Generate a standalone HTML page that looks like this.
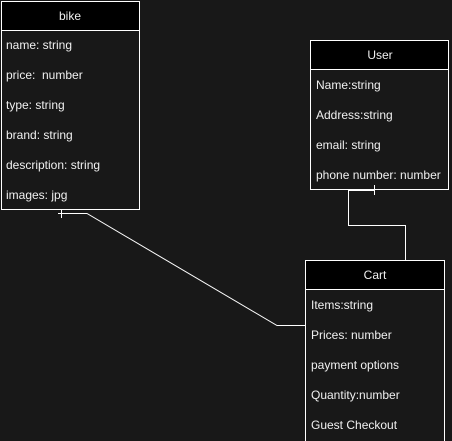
<!DOCTYPE html>
<html><head><style>
body{margin:0;width:452px;height:441px;background:#181818;overflow:hidden;font-family:"Liberation Sans",sans-serif;}
svg{position:absolute;left:0;top:0}
text{fill:#f0f0f0;font-size:12px;font-family:"Liberation Sans",sans-serif}
</style></head><body>
<svg width="452" height="441">
<g stroke="#fff" stroke-width="1" fill="none">
<rect x="1.5" y="1.5" width="138" height="208" fill="#181818"/>
<rect x="1.5" y="1.5" width="138" height="29" fill="#000"/>
<rect x="310.5" y="40.5" width="138" height="149" fill="#181818"/>
<rect x="310.5" y="40.5" width="138" height="29" fill="#000"/>
<rect x="305.5" y="260.5" width="139" height="190" fill="#181818"/>
<rect x="305.5" y="260.5" width="139" height="29" fill="#000"/>
<polyline points="348.5,190 348.5,225.5 405.5,225.5 405.5,260"/>
<line x1="348" y1="190.5" x2="375" y2="190.5"/>
<line x1="374.5" y1="185" x2="374.5" y2="195"/>
<polyline points="58,213.5 87,213.5 277,325.5 305,325.5"/>
<line x1="61.5" y1="209" x2="61.5" y2="218"/>
</g>
<text x="70" y="20" text-anchor="middle">bike</text>
<text x="6" y="49">name: string</text>
<text x="6" y="79">price:&#160; number</text>
<text x="6" y="109">type: string</text>
<text x="6" y="139">brand: string</text>
<text x="6" y="169">description: string</text>
<text x="6" y="199">images: jpg</text>
<text x="380" y="59" text-anchor="middle">User</text>
<text x="316" y="89">Name:string</text>
<text x="316" y="119">Address:string</text>
<text x="316" y="149">email: string</text>
<text x="316" y="179">phone number: number</text>
<text x="375" y="279" text-anchor="middle">Cart</text>
<text x="311" y="309">Items:string</text>
<text x="311" y="339">Prices: number</text>
<text x="311" y="369">payment options</text>
<text x="311" y="399">Quantity:number</text>
<text x="311" y="429">Guest Checkout</text>
</svg>
</body></html>
